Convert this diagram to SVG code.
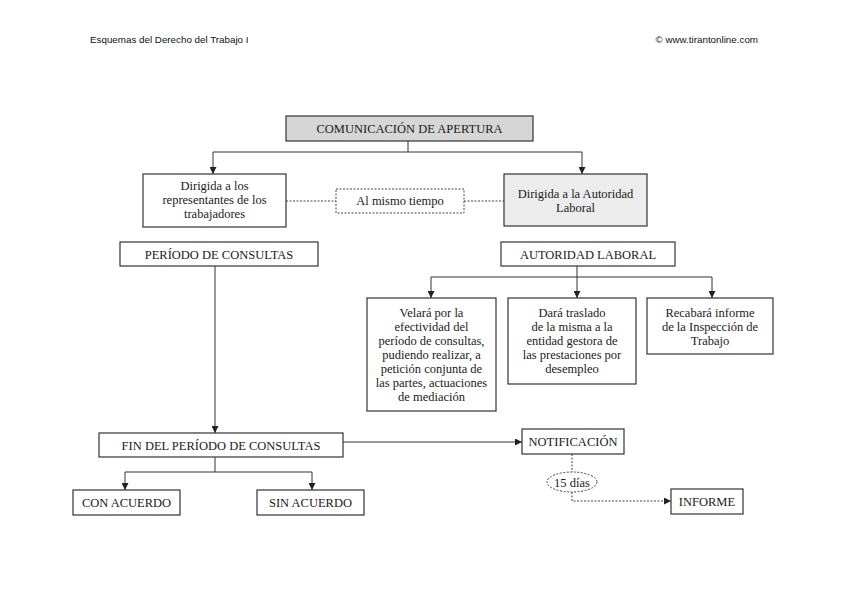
<svg xmlns="http://www.w3.org/2000/svg" width="848" height="599" viewBox="0 0 848 599">
<defs>
<marker id="ah" viewBox="0 0 10 10" refX="10" refY="5" markerWidth="7" markerHeight="7" markerUnits="userSpaceOnUse" orient="auto">
<path d="M0,0 L10,5 L0,10 z" fill="#222"/>
</marker>
<style>
.bx{fill:#fff;stroke:#333;stroke-width:1.2}
.g1{fill:#d6d6d6}
.g2{fill:#ececec}
.dbx{fill:#fff;stroke:#444;stroke-width:1;stroke-dasharray:2,1.5}
.t{font-family:"Liberation Serif","Times New Roman",serif;font-size:12.5px;fill:#1a1a1a;text-anchor:middle}
.c{font-family:"Liberation Serif","Times New Roman",serif;font-size:12.5px;fill:#1a1a1a;text-anchor:middle}
.h{font-family:"Liberation Sans",Arial,sans-serif;font-size:9.8px;fill:#111}
.ln{fill:none;stroke:#333;stroke-width:1}
.dl{fill:none;stroke:#444;stroke-width:1;stroke-dasharray:2,1.5}
</style>
</defs>
<rect width="848" height="599" fill="#fff"/>
<text class="h" x="90" y="43">Esquemas del Derecho del Trabajo I</text>
<text class="h" x="758" y="43" text-anchor="end">© www.tirantonline.com</text>

<g id="connectors">
<path class="ln" d="M408,141 V152 M213,152 H582"/>
<path class="ln" d="M213,152 V174" marker-end="url(#ah)"/>
<path class="ln" d="M582,152 V174" marker-end="url(#ah)"/>
<path class="dl" d="M286,201 H336 M464,201 H504"/>
<path class="ln" d="M215,266 V433" marker-end="url(#ah)"/>
<path class="ln" d="M431,277 H712"/>
<path class="ln" d="M431,277 V298" marker-end="url(#ah)"/>
<path class="ln" d="M577,266 V298" marker-end="url(#ah)"/>
<path class="ln" d="M712,277 V298" marker-end="url(#ah)"/>
<path class="ln" d="M215,457 V472 M125,472 H312"/>
<path class="ln" d="M125,472 V490" marker-end="url(#ah)"/>
<path class="ln" d="M312,472 V490" marker-end="url(#ah)"/>
<path class="ln" d="M343,442 H522" marker-end="url(#ah)"/>
<path class="dl" d="M572,454 V472"/>
<path class="dl" d="M572,492 V501 H671" marker-end="url(#ah)"/>
</g>

<g id="comunicacion">
<rect class="bx g1" x="286" y="116" width="247" height="25"/>
<text class="c" x="409.5" y="133">COMUNICACIÓN DE APERTURA</text>
</g>
<g id="representantes">
<rect class="bx" x="143" y="174" width="143" height="53"/>
<text class="t" x="214.5" y="190">Dirigida a los</text>
<text class="t" x="214.5" y="204">representantes de los</text>
<text class="t" x="214.5" y="218">trabajadores</text>
</g>
<g id="mismo-tiempo">
<rect class="dbx" x="336" y="189" width="128" height="24"/>
<text class="t" x="400" y="205">Al mismo tiempo</text>
</g>
<g id="autoridad-dirigida">
<rect class="bx g2" x="504" y="174" width="143" height="52"/>
<text class="t" x="575.5" y="198">Dirigida a la Autoridad</text>
<text class="t" x="575.5" y="212">Laboral</text>
</g>
<g id="periodo">
<rect class="bx" x="120" y="242" width="198" height="24"/>
<text class="c" x="219" y="258.5">PERÍODO DE CONSULTAS</text>
</g>
<g id="autoridad-laboral">
<rect class="bx" x="501" y="242" width="174" height="24"/>
<text class="c" x="588" y="258.5">AUTORIDAD LABORAL</text>
</g>
<g id="velara">
<rect class="bx" x="367" y="298" width="129" height="113"/>
<text class="t" x="431.5" y="317">Velará por la</text>
<text class="t" x="431.5" y="331">efectividad del</text>
<text class="t" x="431.5" y="345">período de consultas,</text>
<text class="t" x="431.5" y="359">pudiendo realizar, a</text>
<text class="t" x="431.5" y="373">petición conjunta de</text>
<text class="t" x="431.5" y="387">las partes, actuaciones</text>
<text class="t" x="431.5" y="401">de mediación</text>
</g>
<g id="dara">
<rect class="bx" x="508" y="298" width="128" height="86"/>
<text class="t" x="572" y="317">Dará traslado</text>
<text class="t" x="572" y="331">de la misma a la</text>
<text class="t" x="572" y="345">entidad gestora de</text>
<text class="t" x="572" y="359">las prestaciones por</text>
<text class="t" x="572" y="373">desempleo</text>
</g>
<g id="recabara">
<rect class="bx" x="647" y="298" width="126" height="56"/>
<text class="t" x="710" y="317">Recabará informe</text>
<text class="t" x="710" y="331">de la Inspección de</text>
<text class="t" x="710" y="345">Trabajo</text>
</g>
<g id="fin">
<rect class="bx" x="99" y="433" width="244" height="24"/>
<text class="c" x="221" y="449.5">FIN DEL PERÍODO DE CONSULTAS</text>
</g>
<g id="con-acuerdo">
<rect class="bx" x="73" y="490" width="107" height="25"/>
<text class="c" x="126.5" y="507">CON ACUERDO</text>
</g>
<g id="sin-acuerdo">
<rect class="bx" x="257" y="490" width="107" height="25"/>
<text class="c" x="310.5" y="507">SIN ACUERDO</text>
</g>
<g id="notificacion">
<rect class="bx" x="522" y="429" width="102" height="25"/>
<text class="c" x="573" y="446">NOTIFICACIÓN</text>
</g>
<g id="quince-dias">
<ellipse class="dbx" cx="572" cy="482" rx="25" ry="10"/>
<text class="t" x="572" y="486.5">15 días</text>
</g>
<g id="informe">
<rect class="bx" x="671" y="489" width="72" height="25"/>
<text class="c" x="707" y="506">INFORME</text>
</g>
</svg>
